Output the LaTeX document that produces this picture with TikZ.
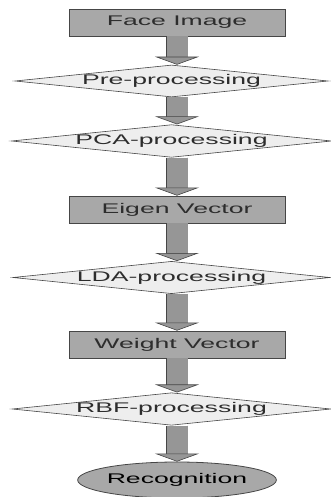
\documentclass[tikz,border=0pt]{standalone}
\usepackage{fontspec}
\newfontfamily\flowfont[FakeStretch=1.9]{Liberation Sans}
\usetikzlibrary{shapes.geometric,arrows.meta}
\definecolor{edgegray}{RGB}{70,70,70}
\definecolor{boxgray}{RGB}{168,168,168}
\definecolor{diagray}{RGB}{238,238,238}
\definecolor{arrowgray}{RGB}{150,150,150}
\definecolor{textgray}{RGB}{45,45,45}

\begin{document}
\begin{tikzpicture}[x=1pt,y=1pt]
\tikzstyle{stage}=[rectangle, draw=edgegray, fill=boxgray, line width=0.8pt, minimum width=216pt, minimum height=27pt, inner sep=0pt, text=textgray, font=\flowfont\fontsize{14}{16}\selectfont]
\tikzstyle{process}=[diamond, draw=edgegray, fill=diagray, line width=0.6pt, aspect=9.8, minimum width=313pt, minimum height=32pt, inner sep=0pt, text=textgray, font=\flowfont\fontsize{14}{16}\selectfont]
\tikzstyle{result}=[ellipse, draw=edgegray, fill=boxgray, line width=0.8pt, minimum width=162pt, minimum height=36pt, inner sep=0pt, text=black, font=\flowfont\fontsize{14}{16}\selectfont]
\tikzstyle{flow}=[draw=arrowgray, line width=21pt, -{Triangle[width=44pt,length=8pt,color=edgegray,fill=arrowgray,line width=0.6pt]}, preaction={draw=edgegray, line width=22.4pt, arrows=-, shorten >=7pt}]
\useasboundingbox (0,0) rectangle (330,-497);

\node[stage] (face) at (177,-22.5) {Face Image};
\node[process] (pre) at (171.5,-81) {Pre-processing};
\node[process] (pca) at (171.5,-141) {PCA-processing};
\node[stage] (eigen) at (177,-209.5) {Eigen Vector};
\node[process, minimum height=31pt] (lda) at (171.5,-277.5) {LDA-processing};
\node[stage] (weight) at (177,-344.5) {Weight Vector};
\node[process] (rbf) at (171.5,-409) {RBF-processing};
\node[result] (recog) at (177,-480) {Recognition};

\draw[flow] (face.south) -- (face |- pre.north);
\draw[flow] (face |- pre.south) -- (face |- pca.north);
\draw[flow] (face |- pca.south) -- (eigen.north);
\draw[flow] (eigen.south) -- (face |- lda.north);
\draw[flow] (face |- lda.south) -- (weight.north);
\draw[flow] (weight.south) -- (face |- rbf.north);
\draw[flow] (face |- rbf.south) -- (recog.north);

  \end{tikzpicture}
\end{document}
